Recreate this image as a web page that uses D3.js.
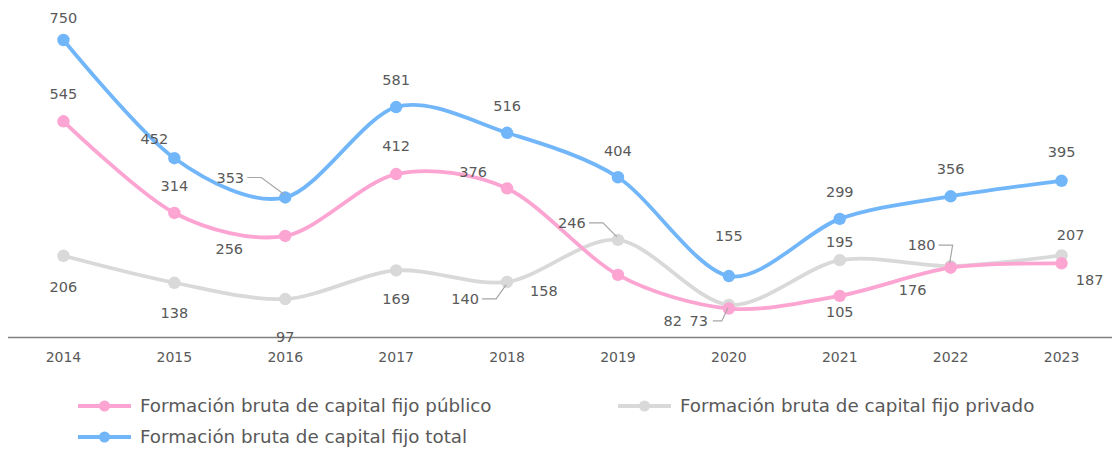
<!DOCTYPE html>
<html>
<head>
<meta charset="utf-8"/>
<script src="https://d3js.org/d3.v7.min.js"></script>
<style>
body { margin: 0; background: #fff; }
text { font-family: "Century Gothic", "DejaVu Sans", sans-serif; fill: #595959; }
.lbl { font-size: 14.5px; }
.tick { font-size: 14px; }
.leg { font-size: 18.3px; }
.leader { fill: none; stroke: #a6a6a6; stroke-width: 1.2px; }
</style>
</head>
<body>
<script>

var years = ["2014","2015","2016","2017","2018","2019","2020","2021","2022","2023"];
var publico = [545, 314, 256, 412, 376, 158, 73, 105, 176, 187];
var privado = [206, 138, 97, 169, 140, 246, 82, 195, 180, 207];
var total = [750, 452, 353, 581, 516, 404, 155, 299, 356, 395];

var seriesNames = ["Formación bruta de capital fijo público",
                   "Formación bruta de capital fijo privado",
                   "Formación bruta de capital fijo total"];
var colors = ["#fca4d2", "#d9d9d9", "#72b6fa"];

// label offsets from point (dx, dy of text centre); third item = draw a leader line
var pubOff = [[0,-27],[0,-27],[-56,13],[0,-28],[-34,-16],[-74,16],[-30,12],[0,16],[-38,22],[28,17]];
var priOff = [[0,31],[0,30],[0,38],[0,28],[-42,17,1],[-46,-17,1],[-56,16,1],[0,-18],[-29,-21,1],[9,-20]];
var totOff = [[0,-22],[-20,-19],[-55,-20,1],[0,-27],[0,-27],[0,-26],[0,-40],[0,-27],[0,-27],[0,-29]];

var width = 1112, height = 450;

var svg = d3.select("body").append("svg")
    .attr("width", width)
    .attr("height", height);

var x = d3.scalePoint()
    .domain(years)
    .range([8, 1117])
    .padding(0.5);

var y = d3.scaleLinear()
    .domain([0, 750])
    .range([337.5, 40]);

// axis
svg.append("line")
    .attr("x1", 8).attr("x2", 1112)
    .attr("y1", y(0)).attr("y2", y(0))
    .attr("stroke", "#7f7f7f").attr("stroke-width", 1.3);

svg.selectAll(".tick").data(years).enter().append("text")
    .attr("class", "tick")
    .attr("x", function(d) { return x(d); })
    .attr("y", 362)
    .attr("text-anchor", "middle")
    .text(function(d) { return d; });

var line = d3.line()
    .x(function(d, i) { return x(years[i]); })
    .y(function(d) { return y(d); })
    .curve(d3.curveCardinal.tension(0.1));

var all = [
  { vals: privado, color: colors[1], off: priOff },
  { vals: publico, color: colors[0], off: pubOff },
  { vals: total, color: colors[2], off: totOff }
];

all.forEach(function(s) {
  svg.append("path")
      .datum(s.vals)
      .attr("fill", "none")
      .attr("stroke", s.color)
      .attr("stroke-width", 3.8)
      .attr("d", line);

  svg.selectAll(null).data(s.vals).enter().append("circle")
      .attr("cx", function(d, i) { return x(years[i]); })
      .attr("cy", function(d) { return y(d); })
      .attr("r", 6.2)
      .attr("fill", s.color);
});

all.forEach(function(s) {
  s.vals.forEach(function(v, i) {
    var px = x(years[i]), py = y(v);
    var o = s.off[i];
    var tx = px + o[0], ty = py + o[1];
    svg.append("text")
        .attr("class", "lbl")
        .attr("x", tx)
        .attr("y", ty)
        .attr("dy", "0.35em")
        .attr("text-anchor", "middle")
        .text(v);
    if (o[2]) {
      var sx = tx + 17, ex = tx + 31;
      if (s.vals === privado && i === 6) { sx = tx + 40; ex = tx + 49; }
      var dirY = py > ty ? -3 : 3;
      svg.append("path")
          .attr("class", "leader")
          .attr("d", "M" + sx + "," + ty + "H" + ex + "L" + (px - 1) + "," + (py + dirY));
    }
  });
});

// legend
var legend = [
  { name: seriesNames[0], color: colors[0], x: 78, y: 406 },
  { name: seriesNames[1], color: colors[1], x: 618, y: 406 },
  { name: seriesNames[2], color: colors[2], x: 78, y: 437 }
];

legend.forEach(function(l) {
  var g = svg.append("g").attr("transform", "translate(" + l.x + "," + l.y + ")");
  g.append("line").attr("x1", 0).attr("x2", 53).attr("y1", 0).attr("y2", 0)
      .attr("stroke", l.color).attr("stroke-width", 3.8);
  g.append("circle").attr("cx", 26.5).attr("cy", 0).attr("r", 5.5).attr("fill", l.color);
  g.append("text").attr("class", "leg").attr("x", 62).attr("y", 0).attr("dy", "0.35em").text(l.name);
});

</script>
</body>
</html>
